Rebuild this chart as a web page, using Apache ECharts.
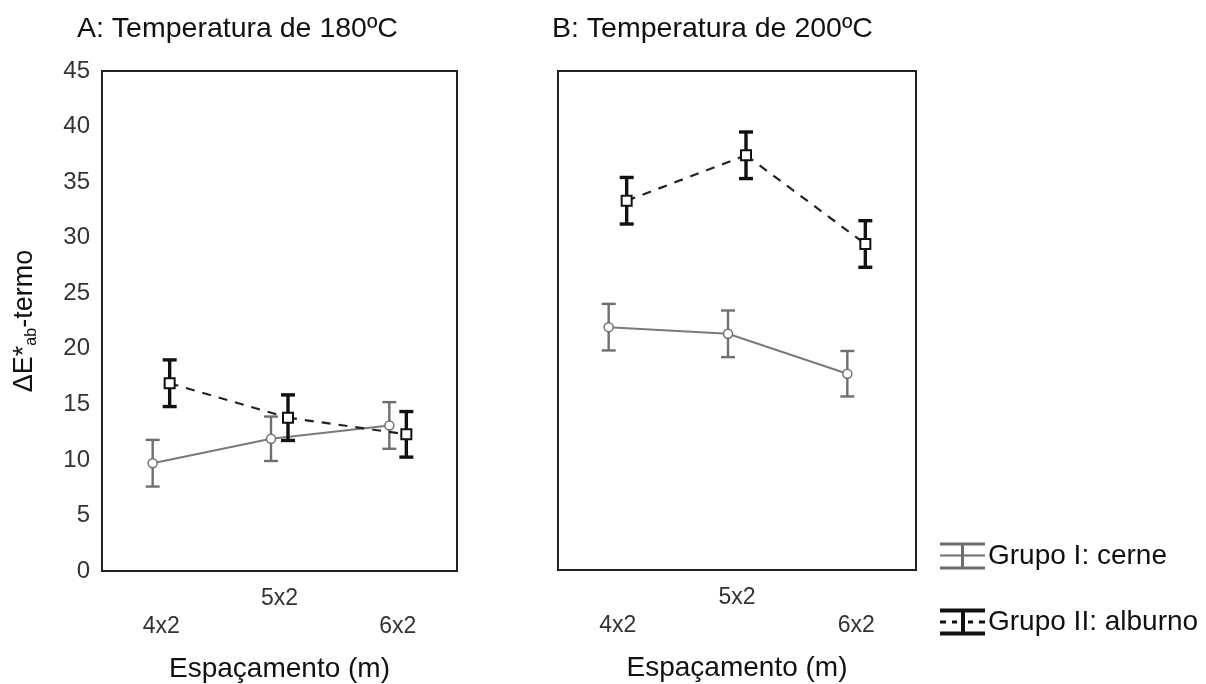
<!DOCTYPE html>
<html>
<head>
<meta charset="utf-8">
<script src="https://cdn.jsdelivr.net/npm/echarts@6/dist/echarts.min.js"></script>
<style>
  html, body { margin: 0; padding: 0; background: #fff; }
  #chart { width: 1206px; height: 684px; }
</style>
</head>
<body>
<div id="chart"></div>
<script>
// espaçamentos
const cats = ['4x2', '5x2', '6x2']
const yTicks = [0, 45, 5]

// A: 180ºC
const aCerneMean = [9.7, 11.9, 13.1]
const aCerneErr = [2.1, 2.0, 2.1]
const aAlburnoMean = [16.9, 13.8, 12.3]
const aAlburnoErr = [2.1, 2.05, 2.05]

// B: 200ºC
const bCerneMean = [21.9, 21.3, 17.7]
const bCerneErr = [2.1, 2.1, 2.05]
const bAlburnoMean = [33.3, 37.4, 29.4]
const bAlburnoErr = [2.1, 2.1, 2.1]

const FONT = 'Liberation Sans'
const GREY = '#6f6f6f'
const BLACK = '#111'

function groupSeries(name, means, errs, idx, offset, st) {
  const data = means.map((m, i) => [i, m, m - errs[i], m + errs[i]])
  return {
    type: 'custom',
    name: name,
    xAxisIndex: idx,
    yAxisIndex: idx,
    itemStyle: { color: st.color },
    encode: { x: 0, y: [1, 2, 3] },
    data: data,
    renderItem: (params, api) => {
      const i = api.value(0)
      const p = api.coord([i, api.value(1)])
      const lo = api.coord([i, api.value(2)])
      const hi = api.coord([i, api.value(3)])
      const x = p[0] + offset
      const children = []
      if (i < means.length - 1) {
        const q = api.coord([i + 1, means[i + 1]])
        children.push({
          type: 'line',
          shape: { x1: x, y1: p[1], x2: q[0] + offset, y2: q[1] },
          style: { stroke: st.line, lineWidth: st.lineWidth, lineDash: st.dash }
        })
      }
      const bar = { stroke: st.color, lineWidth: st.barWidth }
      children.push({ type: 'line', shape: { x1: x, y1: lo[1], x2: x, y2: hi[1] }, style: bar })
      children.push({ type: 'line', shape: { x1: x - st.cap, y1: lo[1], x2: x + st.cap, y2: lo[1] }, style: bar })
      children.push({ type: 'line', shape: { x1: x - st.cap, y1: hi[1], x2: x + st.cap, y2: hi[1] }, style: bar })
      if (st.marker === 'circle') {
        children.push({ type: 'circle', shape: { cx: x, cy: p[1], r: 4.5 },
          style: { fill: '#fff', stroke: st.color, lineWidth: 1.5 } })
      } else {
        children.push({ type: 'rect', shape: { x: x - 5, y: p[1] - 5, width: 10, height: 10 },
          style: { fill: '#fff', stroke: st.color, lineWidth: 2 } })
      }
      return { type: 'group', children: children }
    }
  }
}

const cerneStyle = { color: GREY, line: '#7a7a7a', lineWidth: 2, dash: null, barWidth: 2.4, cap: 7, marker: 'circle' }
const alburnoStyle = { color: BLACK, line: '#222', lineWidth: 2.2, dash: [9, 8], barWidth: 3.4, cap: 7, marker: 'square' }

const grids = [
  { left: 102, top: 71, width: 355, height: 500 },
  { left: 558, top: 71, width: 358, height: 499 }
]

const xAxisBase = idx => ({
  type: 'category',
  gridIndex: idx,
  data: cats,
  axisLine: { show: false },
  axisTick: { show: false },
  axisLabel: {
    margin: 16,
    formatter: (v, i) => (i % 2 ? '{hi|' + v + '}' : '{lo|' + v + '}'),
    rich: {
      hi: { fontFamily: FONT, fontSize: 23, color: '#333' },
      lo: { fontFamily: FONT, fontSize: 23, color: '#333', padding: [28, 0, 0, 0] }
    }
  },
  name: 'Espaçamento (m)',
  nameLocation: 'middle',
  nameGap: 84,
  nameTextStyle: { fontFamily: FONT, fontSize: 28, color: '#111' }
})

const yAxisBase = (idx, showLabels) => ({
  type: 'value',
  gridIndex: idx,
  min: yTicks[0],
  max: yTicks[1],
  interval: yTicks[2],
  axisLine: { show: false },
  axisTick: { show: false },
  splitLine: { show: false },
  axisLabel: { show: showLabels, margin: 12, fontFamily: FONT, fontSize: 24, color: '#333' }
})

const yA = yAxisBase(0, true)
yA.name = '{m|ΔE*}{s|ab}{m|-termo}'
yA.nameLocation = 'middle'
yA.nameRotate = 90
yA.nameGap = 62
yA.nameTextStyle = {
  rich: {
    m: { fontFamily: FONT, fontSize: 27, color: '#111', lineHeight: 30 },
    s: { fontFamily: FONT, fontSize: 16, color: '#111', verticalAlign: 'bottom', lineHeight: 30 }
  }
}

const chart = echarts.init(document.getElementById('chart'))
const option = {
  backgroundColor: '#fff',
  animation: false,
  title: [
    { text: 'A: Temperatura de 180ºC', left: 72, top: 10,
      textStyle: { fontFamily: FONT, fontSize: 28.5, fontWeight: 'normal', color: '#111' } },
    { text: 'B: Temperatura de 200ºC', left: 547, top: 10,
      textStyle: { fontFamily: FONT, fontSize: 28.5, fontWeight: 'normal', color: '#111' } }
  ],
  legend: {
    orient: 'vertical',
    left: 935,
    top: 537,
    itemGap: 38,
    itemWidth: 45,
    itemHeight: 27,
    textStyle: { fontFamily: FONT, fontSize: 28, color: '#111', padding: [0, 0, 0, -2] },
    data: [
      { name: 'Grupo I: cerne',
        icon: 'path://M0 0h45v3H0z M0 24h45v3H0z M0 12h45v2H0z M21 0h3v27h-3z' },
      { name: 'Grupo II: alburno',
        icon: 'path://M0 0h45v4H0z M0 23h45v4H0z M21 0h4v27h-4z M0 12h6v3H0z M12 12h5v3h-5z M28 12h5v3h-5z M39 12h6v3h-6z' }
    ]
  },
  grid: grids.map(g => Object.assign({
    show: true, borderColor: '#222', borderWidth: 2, backgroundColor: '#fff',
    containLabel: false, outerBoundsMode: 'none'
  }, g)),
  xAxis: [xAxisBase(0), xAxisBase(1)],
  yAxis: [yA, yAxisBase(1, false)],
  series: [
    groupSeries('Grupo I: cerne', aCerneMean, aCerneErr, 0, -8.5, cerneStyle),
    groupSeries('Grupo II: alburno', aAlburnoMean, aAlburnoErr, 0, 8.5, alburnoStyle),
    groupSeries('Grupo I: cerne', bCerneMean, bCerneErr, 1, -9, cerneStyle),
    groupSeries('Grupo II: alburno', bAlburnoMean, bAlburnoErr, 1, 9, alburnoStyle)
  ]
}
option && chart.setOption(option)
</script>
</body>
</html>
